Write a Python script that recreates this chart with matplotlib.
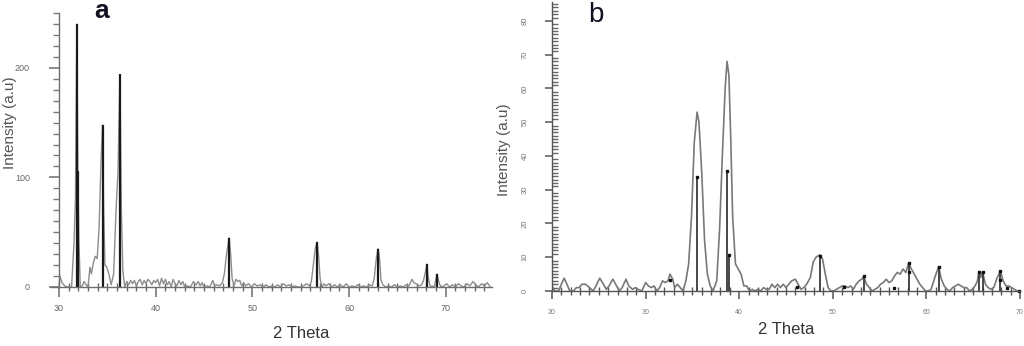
import matplotlib
matplotlib.use("Agg")
import matplotlib.pyplot as plt
from matplotlib.ticker import MultipleLocator

plt.rcParams["font.family"] = ["Liberation Sans", "DejaVu Sans"]

# panel a: XRD trace, 2-theta vs intensity
theta_a = [
    30.0, 30.1, 30.3, 30.6, 30.9, 31.3, 31.55, 31.7, 31.85, 31.95,
    32.05, 32.2, 32.4, 32.6, 32.8, 33.0, 33.2, 33.35, 33.55, 33.75,
    33.95, 34.15, 34.35, 34.5, 34.62, 34.75, 34.95, 35.15, 35.4, 35.65,
    35.9, 36.1, 36.3, 36.45, 36.6, 36.8, 37.0, 37.2, 37.4, 37.6,
    37.8, 38.0, 38.2, 38.4, 38.6, 38.8, 39.0, 39.2, 39.4, 39.6,
    39.8, 40.0, 40.2, 40.4, 40.6, 40.8, 41.0, 41.2, 41.4, 41.6,
    41.8, 42.0, 42.2, 42.4, 42.6, 42.8, 43.0, 43.3, 43.6, 43.9,
    44.2, 44.4, 44.6, 44.8, 45.0, 45.3, 45.6, 45.9, 46.1, 46.3,
    46.6, 46.9, 47.1, 47.3, 47.5, 47.6, 47.75, 47.9, 48.1, 48.3,
    48.5, 48.7, 48.9, 49.1, 49.3, 49.6, 49.9, 50.2, 50.5, 50.8,
    51.1, 51.4, 51.7, 52.0, 52.3, 52.6, 52.9, 53.2, 53.5, 53.8,
    54.1, 54.4, 54.7, 55.0, 55.3, 55.6, 55.9, 56.1, 56.3, 56.5,
    56.7, 56.85, 57.0, 57.2, 57.4, 57.6, 57.9, 58.2, 58.5, 58.8,
    59.1, 59.4, 59.7, 60.0, 60.3, 60.6, 60.9, 61.2, 61.5, 61.8,
    62.1, 62.4, 62.6, 62.8, 63.0, 63.15, 63.3, 63.5, 63.8, 64.1,
    64.4, 64.7, 65.0, 65.3, 65.6, 65.9, 66.2, 66.5, 66.7, 66.9,
    67.2, 67.5, 67.7, 67.9, 68.05, 68.2, 68.4, 68.6, 68.8, 69.0,
    69.1, 69.3, 69.5, 69.8, 70.1, 70.4, 70.7, 71.0, 71.3, 71.6,
    71.9, 72.2, 72.5, 72.8, 73.1, 73.4, 73.7, 74.0, 74.3, 74.6,
]
counts_a = [
    2, 10, 4, 1, 0, 0, 40, 80, 240, 106,
    45, 0, 1, 5, 2, 0, 18, 12, 22, 28,
    26, 55, 115, 148, 70, 20, 18, 12, 2, 12,
    70, 105, 194, 70, 15, 0, 5, 2, 6, 3,
    6, 1, 5, 7, 2, 6, 3, 7, 5, 2,
    6, 4, 7, 1, 8, 3, 7, 2, 5, 0,
    7, 3, 1, 6, 2, 5, 0, 1, 0, 5,
    2, 5, 1, 4, 0, 1, 0, 6, 1, 2,
    1, 4, 12, 28, 40, 45, 30, 8, 1, 7,
    5, 6, 1, 4, 1, 3, 0, 3, 1, 2,
    0, 2, 0, 1, 0, 2, 0, 3, 1, 2,
    0, 1, 0, 0, 1, 3, 1, 5, 20, 35,
    41, 28, 8, 0, 3, 1, 3, 0, 2, 0,
    2, 0, 3, 0, 1, 0, 2, 0, 1, 0,
    2, 1, 8, 25, 35, 26, 6, 2, 0, 1,
    0, 2, 0, 1, 0, 2, 1, 7, 4, 3,
    1, 2, 6, 14, 21, 8, 0, 1, 0, 8,
    12, 4, 0, 1, 3, 0, 2, 0, 3, 1,
    0, 3, 1, 5, 2, 0, 3, 1, 4, 0,
]
peaks_a = [31.85, 31.95, 34.5, 36.3, 47.6, 56.7, 63.0, 68.05, 69.1]
peak_h_a = [240, 106, 148, 194, 45, 41, 35, 21, 12]

# panel b
theta_b = [
    20.0, 20.3, 20.7, 21.0, 21.3, 21.6, 21.9, 22.3, 22.6, 22.9,
    23.2, 23.6, 24.0, 24.4, 24.7, 25.1, 25.5, 25.8, 26.1, 26.5,
    26.9, 27.2, 27.5, 27.9, 28.2, 28.6, 28.9, 29.2, 29.6, 30.0,
    30.3, 30.6, 30.9, 31.2, 31.5, 31.8, 32.1, 32.4, 32.6, 32.9,
    33.1, 33.4, 33.7, 34.0, 34.3, 34.6, 34.9, 35.2, 35.5, 35.7,
    36.0, 36.3, 36.6, 36.9, 37.2, 37.6, 37.9, 38.2, 38.5, 38.7,
    38.9, 39.1, 39.3, 39.6, 39.9, 40.2, 40.5, 40.8, 41.1, 41.4,
    41.7, 42.0, 42.3, 42.6, 42.9, 43.2, 43.5, 43.8, 44.1, 44.4,
    44.7, 45.0, 45.3, 45.6, 46.0, 46.3, 46.6, 46.9, 47.2, 47.6,
    47.9, 48.2, 48.6, 48.9, 49.2, 49.5, 49.8, 50.1, 50.4, 50.7,
    51.0, 51.3, 51.6, 51.9, 52.2, 52.5, 52.8, 53.1, 53.3, 53.6,
    53.9, 54.2, 54.5, 54.8, 55.1, 55.4, 55.7, 56.0, 56.3, 56.6,
    56.9, 57.2, 57.5, 57.8, 58.1, 58.4, 58.7, 59.0, 59.3, 59.6,
    59.9, 60.2, 60.5, 60.9, 61.3, 61.6, 61.9, 62.2, 62.5, 62.8,
    63.1, 63.4, 63.7, 64.0, 64.3, 64.6, 64.9, 65.2, 65.45, 65.6,
    65.8, 66.0, 66.3, 66.6, 66.9, 67.2, 67.5, 67.9, 68.2, 68.5,
    68.8, 69.1, 69.4, 69.7, 70.0,
]
counts_b = [
    1.5, 0, 0, 2, 3.8, 2, 0, 0, 1, 1,
    2, 2, 1, 0, 1.5, 3.8, 2, 0.5, 1.5, 3.5,
    1.5, 0, 1, 3.5, 1.5, 0.5, 1, 0.5, 0, 2.5,
    1.5, 1, 1.5, 0, 1, 3, 2.5, 3, 5, 3.5,
    1, 2, 1, 0, 3, 8, 22, 44, 53, 50,
    35, 15, 5, 1.5, 0, 3, 18, 40, 60, 68,
    64, 45, 22, 8, 6.5, 5, 1.5, 1.5, 0, 0.5,
    0, 0.5, 0, 1, 0.5, 0.5, 2, 1, 2, 1,
    2, 1, 2, 3, 3.5, 2, 0.5, 1, 2, 4,
    8.5, 10, 10.7, 9.5, 5, 1, 0, 0, 0.5, 1,
    1.5, 1.5, 1, 1.5, 0.5, 2, 3, 3.5, 4.3, 2,
    1, 0, 0.5, 1, 2, 2.5, 3.5, 2.5, 3, 4.5,
    5.5, 5, 6.5, 5.5, 8.3, 6.5, 5, 3.5, 2, 1,
    0, 0, 0.5, 4, 7.2, 3.5, 1.5, 0.5, 0, 1,
    1.5, 2, 1.5, 1, 1, 0, 0.5, 1.5, 3, 5.7,
    4, 5.7, 2, 1, 0.5, 1, 3.5, 6, 3, 1.5,
    1.5, 1, 0.5, 0, 0,
]
peaks_b = [35.5, 38.7, 38.9, 48.6, 53.3, 58.1, 61.3, 65.6, 66.0, 67.9]
peak_h_b = [34, 35.6, 10.7, 10.5, 4.3, 8.3, 7.2, 5.7, 5.7, 6.0]
marks_x_b = [32.6, 35.5, 38.7, 38.9, 46.2, 48.6, 51.2, 53.3, 56.5,
             58.1, 58.1, 61.3, 65.6, 66.0, 67.9, 67.9, 68.6, 69.9]
marks_y_b = [3.3, 33.8, 35.6, 10.7, 1.2, 10.5, 1.2, 4.3, 0.9,
             8.3, 5.7, 7.2, 5.7, 5.7, 6.0, 3.3, 0.9, 0]

W, H = 1024, 346
fig = plt.figure(figsize=(W / 100, H / 100), dpi=100)


def box(l, t, r, b):
    return [l / W, 1 - b / H, (r - l) / W, (b - t) / H]


def style(ax, spine_col):
    for s in ("top", "right"):
        ax.spines[s].set_visible(False)
    for s in ("left", "bottom"):
        ax.spines[s].set_color(spine_col)
        ax.spines[s].set_linewidth(1.0)


# ---- panel a ----
ax = fig.add_axes(box(59, 13, 492, 287))
ax.plot(theta_a, counts_a, color="#8c8c8c", lw=1.0, clip_on=False)
ax.vlines(peaks_a, 0, peak_h_a, color="#1a1a1a", lw=1.6)
ax.set_xlim(30, 74.78)
ax.set_ylim(0, 250)
style(ax, "#6e6e6e")
ax.xaxis.set_major_locator(MultipleLocator(10))
ax.xaxis.set_minor_locator(MultipleLocator(1))
ax.yaxis.set_major_locator(MultipleLocator(100))
ax.yaxis.set_minor_locator(MultipleLocator(10))
ax.tick_params(axis="x", which="major", direction="out", length=7, width=1.1,
               colors="#6e6e6e", labelsize=6.5, labelcolor="#666666", pad=5)
ax.tick_params(axis="x", which="minor", direction="inout", length=6, width=1.0,
               colors="#6a6a6a")
ax.tick_params(axis="y", which="major", direction="out", length=7, width=1.1,
               colors="#6e6e6e", labelsize=6.5, labelcolor="#666666", pad=14)
ax.tick_params(axis="y", which="minor", direction="out", length=4, width=1.0,
               colors="#7a7a7a")
# the x axis line runs a little to the left of the y axis
ax.plot([29.15, 30], [0, 0], color="#6e6e6e", lw=1.0, clip_on=False)

# ---- panel b ----
bx = fig.add_axes(box(552, 2, 1020, 291))
bx.plot(theta_b, counts_b, color="#787878", lw=1.2)
bx.vlines(peaks_b, 0, peak_h_b, color="#3a3a3a", lw=1.3)
bx.plot(marks_x_b, marks_y_b, "s", color="#111111", ms=1.8, ls="none",
        clip_on=False)
bx.set_xlim(20, 70.0)
bx.set_ylim(0, 85.6)
style(bx, "#555555")
bx.xaxis.set_major_locator(MultipleLocator(10))
bx.xaxis.set_minor_locator(MultipleLocator(1))
bx.yaxis.set_major_locator(MultipleLocator(10))
bx.yaxis.set_minor_locator(MultipleLocator(1))
bx.tick_params(axis="x", which="major", direction="out", length=6, width=1.1,
               colors="#555555", labelsize=5, labelcolor="#777777", pad=7)
bx.tick_params(axis="x", which="minor", direction="inout", length=6, width=1.0,
               colors="#555555")
bx.tick_params(axis="y", which="major", direction="out", length=5, width=1.1,
               colors="#555555", labelsize=5.5, labelcolor="#777777", pad=12,
               labelrotation=90)
bx.tick_params(axis="y", which="minor", direction="in", length=4, width=1.0,
               colors="#666666")
for lab in bx.get_yticklabels():
    lab.set_va("center")

# ---- labels ----
fig.text(102 / W, 1 - 18 / H, "a", fontsize=19, color="#111122", ha="center",
         va="baseline", fontweight="bold")
fig.text(596 / W, 1 - 22 / H, "b", fontsize=20, color="#111122", ha="center",
         va="baseline")
fig.text(10 / W, 1 - 123 / H, "Intensity (a.u)", rotation=90, fontsize=11,
         color="#555555", ha="center", va="center")
fig.text(504 / W, 1 - 150 / H, "Intensity (a.u)", rotation=90, fontsize=11,
         color="#555555", ha="center", va="center")
fig.text(301 / W, 1 - 334 / H, "2 Theta", fontsize=12, color="#333333",
         ha="center", va="center")
fig.text(786 / W, 1 - 329 / H, "2 Theta", fontsize=12, color="#333333",
         ha="center", va="center")

fig.savefig("out.png", dpi=100)
